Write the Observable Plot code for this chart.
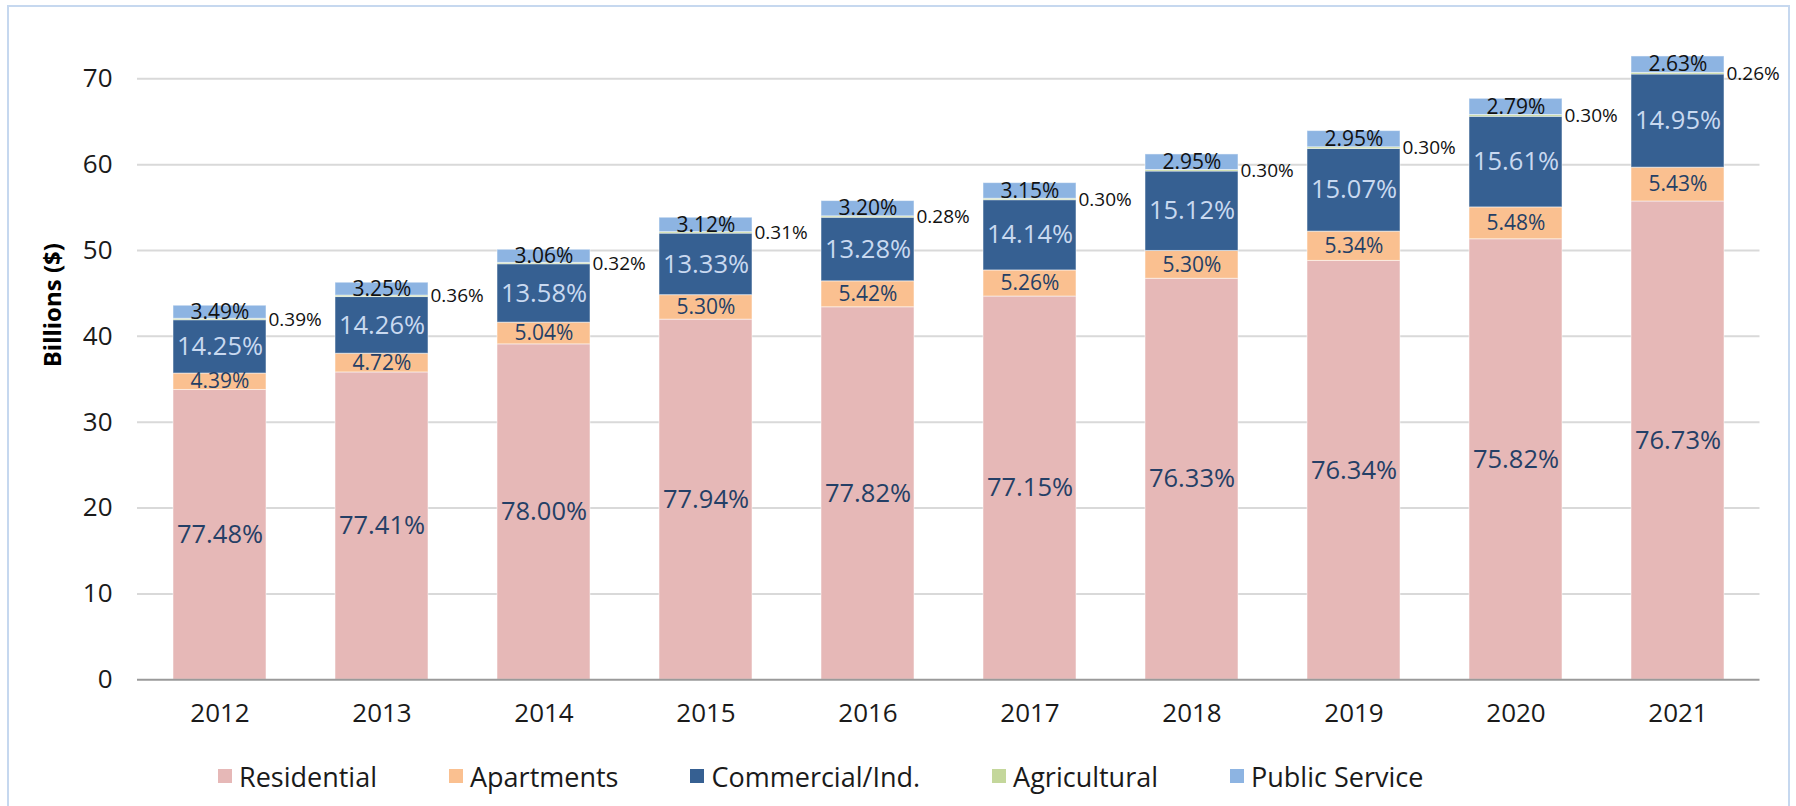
<!DOCTYPE html>
<html>
<head>
<meta charset="utf-8">
<script src="https://cdn.jsdelivr.net/npm/d3@7"></script>
<script src="https://cdn.jsdelivr.net/npm/@observablehq/plot@0.6"></script>
<style>
  html, body { margin: 0; padding: 0; background: #fff; width: 1796px; height: 806px; overflow: hidden; }
  #frame { position: absolute; left: 7px; top: 5px; width: 1783px; height: 900px; border: 2px solid #c6d8ef; box-sizing: border-box; }
  #chart { position: absolute; left: 0; top: 0; }
  #legend { position: absolute; left: 218px; top: 756px; height: 40px; display: flex; align-items: center; gap: 72px;
            font-family: "Open Sans", sans-serif; font-size: 27px; color: #1a1a1a; }
  .item { display: flex; align-items: center; }
  .sw { width: 14px; height: 14px; margin-right: 7px; }
</style>
</head>
<body>
<div id="frame"></div>
<div id="chart"></div>
<div id="legend"></div>
<script>
const years = ["2012","2013","2014","2015","2016","2017","2018","2019","2020","2021"];
const seriesNames = ["Residential","Apartments","Commercial/Ind.","Agricultural","Public Service"];
const seriesColors = ["#e6b8b7","#fac090","#366092","#c4d79b","#8db4e2"];

// values in billions ($)
const residential   = [33.76, 35.80, 39.07, 41.95, 43.39, 44.64, 46.71, 48.79, 51.31, 55.71];
const apartments    = [1.91, 2.18, 2.53, 2.85, 3.02, 3.04, 3.24, 3.41, 3.71, 3.94];
const commercial    = [6.21, 6.60, 6.80, 7.17, 7.41, 8.18, 9.25, 9.63, 10.56, 10.85];
const agricultural  = [0.17, 0.17, 0.16, 0.17, 0.16, 0.17, 0.18, 0.19, 0.20, 0.19];
const publicService = [1.52, 1.50, 1.53, 1.68, 1.78, 1.82, 1.81, 1.89, 1.89, 1.91];

// share labels
const resLabels = ["77.48%","77.41%","78.00%","77.94%","77.82%","77.15%","76.33%","76.34%","75.82%","76.73%"];
const aptLabels = ["4.39%","4.72%","5.04%","5.30%","5.42%","5.26%","5.30%","5.34%","5.48%","5.43%"];
const comLabels = ["14.25%","14.26%","13.58%","13.33%","13.28%","14.14%","15.12%","15.07%","15.61%","14.95%"];
const agrLabels = ["0.39%","0.36%","0.32%","0.31%","0.28%","0.30%","0.30%","0.30%","0.30%","0.26%"];
const pubLabels = ["3.49%","3.25%","3.06%","3.12%","3.20%","3.15%","2.95%","2.95%","2.79%","2.63%"];

const yTicks = [0, 10, 20, 30, 40, 50, 60, 70];

const seriesValues = [residential, apartments, commercial, agricultural, publicService];
const seriesLabels = [resLabels, aptLabels, comLabels, agrLabels, pubLabels];

const rows = [];
years.forEach((yr, i) => {
  let base = 0;
  seriesNames.forEach((s, k) => {
    const v = seriesValues[k][i];
    rows.push({year: yr, series: s, y1: base, y2: base + v, mid: base + v / 2, label: seriesLabels[k][i]});
    base += v;
  });
});
const bySeries = s => rows.filter(d => d.series === s);

const font = "Open Sans";
const chart = Plot.plot({
  width: 1796,
  height: 745,
  marginLeft: 137,
  marginRight: 36.5,
  marginTop: 78.3,
  marginBottom: 65.7,
  style: {fontFamily: font, color: "#1a1a1a", background: "transparent"},
  x: {domain: years, paddingInner: 0.427, paddingOuter: 0.2135, label: null},
  y: {domain: [0, 70], label: null},
  color: {domain: seriesNames, range: seriesColors},
  marks: [
    Plot.ruleY(yTicks.filter(t => t > 0), {stroke: "#d9d9d9", strokeWidth: 2}),
    Plot.barY(rows, {x: "year", y1: "y1", y2: "y2", fill: "series", stroke: "#ffffff", strokeWidth: 1, strokeOpacity: 0.5}),
    Plot.ruleY([0], {stroke: "#9a9a9a", strokeWidth: 2}),
    Plot.axisY({ticks: yTicks, tickSize: 0, tickPadding: 25, fontSize: 26, label: null}),
    Plot.axisX({tickSize: 0, tickPadding: 24, fontSize: 26, label: null}),
    Plot.text(bySeries("Residential"), {x: "year", y: "mid", text: "label", fill: "#243f66", fontSize: 25.5}),
    Plot.text(bySeries("Apartments"), {x: "year", y: "mid", text: "label", fill: "#243f66", fontSize: 21}),
    Plot.text(bySeries("Commercial/Ind."), {x: "year", y: "mid", text: "label", fill: "#c9d9f0", fontSize: 25.5}),
    Plot.text(bySeries("Public Service"), {x: "year", y: "mid", text: "label", fill: "#111111", fontSize: 21}),
    Plot.text(bySeries("Agricultural"), {x: "year", y: "mid", text: "label", fill: "#111111", fontSize: 19, textAnchor: "start", dx: 48.5}),
    Plot.text(["Billions ($)"], {frameAnchor: "left", dx: -84, dy: -12, rotate: -90, fontSize: 24, fontWeight: "bold", fill: "#000"})
  ]
});
document.getElementById("chart").appendChild(chart);

const legend = document.getElementById("legend");
seriesNames.forEach((s, k) => {
  const item = document.createElement("div");
  item.className = "item";
  const sw = document.createElement("div");
  sw.className = "sw";
  sw.style.background = seriesColors[k];
  const t = document.createElement("span");
  t.textContent = s;
  item.appendChild(sw);
  item.appendChild(t);
  legend.appendChild(item);
});
</script>
</body>
</html>
